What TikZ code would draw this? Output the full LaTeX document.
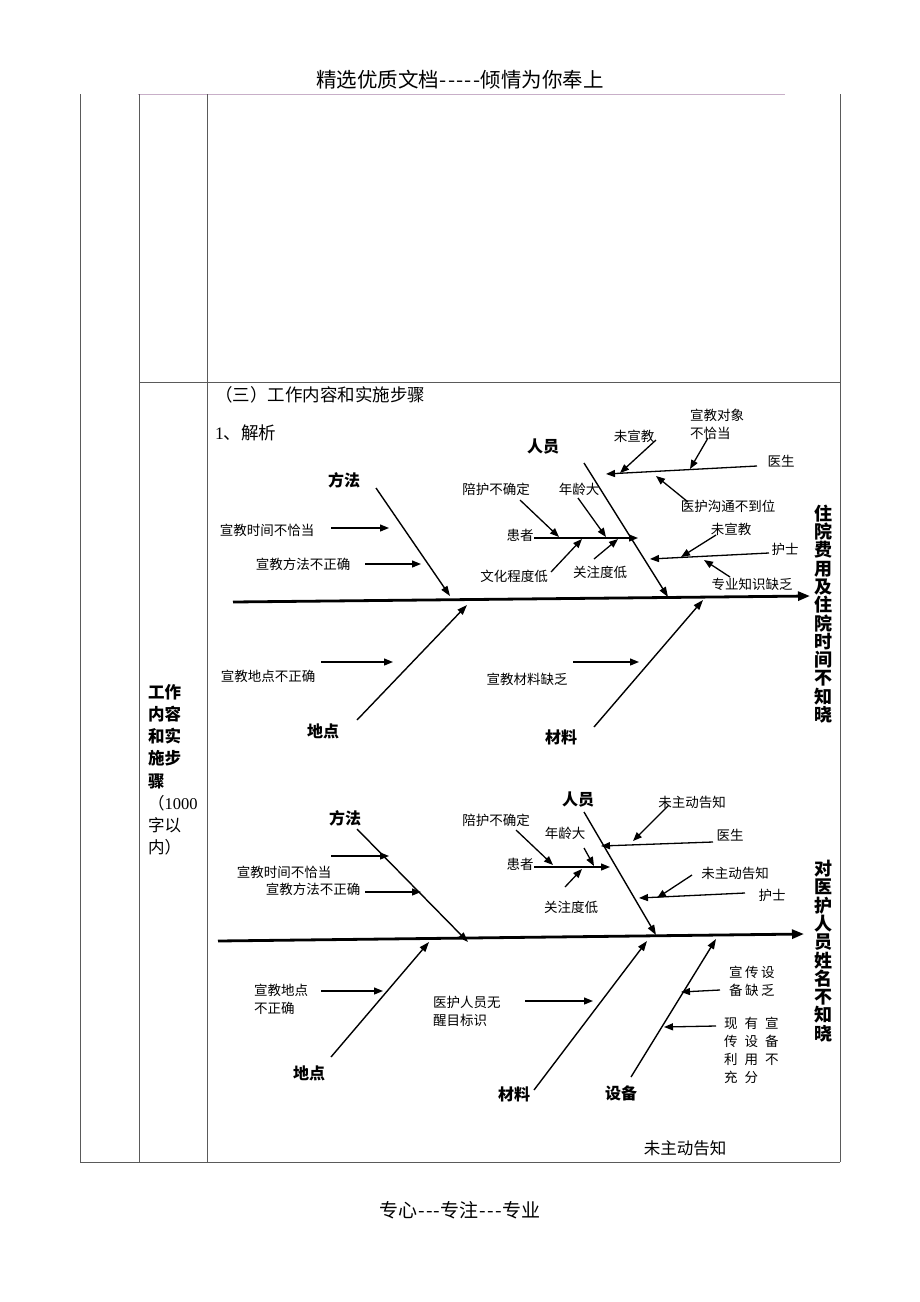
\documentclass[tikz,border=0pt]{standalone}
\usepackage{fontspec}
\setmainfont{Noto Sans CJK SC}
\newfontfamily\lat{Liberation Serif}
\usetikzlibrary{arrows.meta}
\definecolor{hdrline}{RGB}{200,175,200}
\definecolor{tblline}{RGB}{90,90,90}
\newcommand{\dsh}{\kern0.6pt-\kern0.6pt}
\begin{document}
\begin{tikzpicture}[x=1pt,y=-1pt,
  lbl/.style={font=\fontsize{13.5}{18}\selectfont, inner sep=0pt},
  lblL/.style={lbl, anchor=west, align=left},
  head/.style={font=\fontsize{16}{18}\selectfont\bfseries, inner sep=0pt},
  effect/.style={font=\fontsize{18}{18.3}\selectfont\bfseries, inner sep=0pt, align=center},
  arr/.style={line width=1.3pt, -{Triangle[length=9pt,width=7pt]}},
  bone/.style={line width=1.4pt, -{Triangle[length=10pt,width=7pt]}},
  spine/.style={line width=2.8pt, -{Triangle[length=12pt,width=9pt]}},
  tbl/.style={line width=0.9pt, tblline}]
\useasboundingbox (0,0) rectangle (920,1302);

% ---------- page header / footer ----------
\node[inner sep=0pt, font=\fontsize{20.5}{22}\selectfont] (hdr) at (460,80) {精选优质文档\dsh\dsh\dsh\dsh\dsh 倾情为你奉上};
\coordinate (hl1) at (138,94); \coordinate (hl2) at (785,94);
\draw[hdrline, line width=1pt] (hl1) -- (hl2);
\node[inner sep=0pt, font=\fontsize{19}{22}\selectfont] (ftr) at (460,1210) {专心\dsh\dsh\dsh 专注\dsh\dsh\dsh 专业};

% ---------- table ----------
\coordinate (c1t) at (80,94);  \coordinate (c1b) at (80,1162);
\coordinate (c2t) at (139,94); \coordinate (c2b) at (139,1162);
\coordinate (c3t) at (207,94); \coordinate (c3b) at (207,1162);
\coordinate (c4t) at (840,94); \coordinate (c4b) at (840,1162);
\coordinate (r1a) at (139,382); \coordinate (r1b) at (840,382);
\draw[tbl] (c1t) -- (c1b);
\draw[tbl] (c2t) -- (c2b);
\draw[tbl] (c3t) -- (c3b);
\draw[tbl] (c4t) -- (c4b);
\draw[tbl] (r1a) -- (r1b);
\draw[tbl] (c1b) -- (c4b);

% left cell
\node[inner sep=0pt, anchor=north west, align=left, font=\fontsize{16.5}{22.2}\selectfont] (cell) at (148,684)
  {\textbf{工作}\\\textbf{内容}\\\textbf{和实}\\\textbf{施步}\\\textbf{骤}\\（{\lat 1000}\\字以\\内）};

% section titles
\node[inner sep=0pt, anchor=west, font=\fontsize{17.5}{20}\selectfont] (sec) at (215,395) {（三）工作内容和实施步骤};
\node[inner sep=0pt, anchor=west, font=\fontsize{17.5}{20}\selectfont] (sub) at (215,433) {{\lat 1}、解析};

% ================= fishbone 1 =================
\coordinate (s1a) at (233,602); \coordinate (s1b) at (810,596);
\draw[spine] (s1a) -- (s1b);
\node[effect] (eff1) at (823,614) {住\\院\\费\\用\\及\\住\\院\\时\\间\\不\\知\\晓};

% 方法
\node[head] (f1m) at (344,480) {方法};
\coordinate (f1ma) at (376,488); \coordinate (f1mb) at (450,596);
\draw[bone] (f1ma) -- (f1mb);
\node[lbl] (f1m1) at (267,530) {宣教时间不恰当};
\coordinate (f1m1a) at (331,528); \coordinate (f1m1b) at (389,528);
\draw[arr] (f1m1a) -- (f1m1b);
\node[lbl] (f1m2) at (303,564) {宣教方法不正确};
\coordinate (f1m2a) at (365,564); \coordinate (f1m2b) at (421,564);
\draw[arr] (f1m2a) -- (f1m2b);

% 人员
\node[head] (f1r) at (543,447) {人员};
\coordinate (f1ra) at (584,463); \coordinate (f1rb) at (668,597);
\draw[bone] (f1ra) -- (f1rb);
\node[lbl] (f1r1) at (634,436) {未宣教};
\coordinate (f1r1a) at (656,440); \coordinate (f1r1b) at (620,473);
\draw[arr] (f1r1a) -- (f1r1b);
\node[lbl, align=left] (f1r2) at (717,424) {宣教对象\\不恰当};
\coordinate (f1r2a) at (708,438); \coordinate (f1r2b) at (690,469);
\draw[arr] (f1r2a) -- (f1r2b);
\node[lbl] (f1doc) at (781,461) {医生};
\coordinate (f1da) at (757,466); \coordinate (f1db) at (606,474);
\draw[arr] (f1da) -- (f1db);
\node[lbl] (f1r3) at (728,506) {医护沟通不到位};
\coordinate (f1r3a) at (688,502); \coordinate (f1r3b) at (656,476);
\draw[arr] (f1r3a) -- (f1r3b);
\node[lbl] (f1pat) at (520,535) {患者};
\coordinate (f1pa) at (534,538); \coordinate (f1pb) at (638,538);
\draw[arr] (f1pa) -- (f1pb);
\node[lbl] (f1p1) at (496,489) {陪护不确定};
\coordinate (f1p1a) at (520,500); \coordinate (f1p1b) at (559,537);
\draw[arr] (f1p1a) -- (f1p1b);
\node[lbl] (f1p2) at (579,489) {年龄大};
\coordinate (f1p2a) at (578,498); \coordinate (f1p2b) at (606,537);
\draw[arr] (f1p2a) -- (f1p2b);
\node[lbl] (f1p3) at (514,576) {文化程度低};
\coordinate (f1p3a) at (551,572); \coordinate (f1p3b) at (582,539);
\draw[arr] (f1p3a) -- (f1p3b);
\node[lbl] (f1p4) at (600,572) {关注度低};
\coordinate (f1p4a) at (594,559); \coordinate (f1p4b) at (618,539);
\draw[arr] (f1p4a) -- (f1p4b);
\node[lbl] (f1n1) at (731,529) {未宣教};
\coordinate (f1n1a) at (716,535); \coordinate (f1n1b) at (681,557);
\draw[arr] (f1n1a) -- (f1n1b);
\node[lbl] (f1nur) at (785,549) {护士};
\coordinate (f1na) at (769,553); \coordinate (f1nb) at (650,559);
\draw[arr] (f1na) -- (f1nb);
\node[lbl] (f1n2) at (752,584) {专业知识缺乏};
\coordinate (f1n2a) at (730,577); \coordinate (f1n2b) at (704,560);
\draw[arr] (f1n2a) -- (f1n2b);

% 地点
\node[head] (f1d) at (323,731) {地点};
\coordinate (f1dda) at (357,720); \coordinate (f1ddb) at (467,605);
\draw[bone] (f1dda) -- (f1ddb);
\node[lbl] (f1d1) at (268,676) {宣教地点不正确};
\coordinate (f1d1a) at (321,662); \coordinate (f1d1b) at (393,662);
\draw[arr] (f1d1a) -- (f1d1b);

% 材料
\node[head] (f1c) at (561,737) {材料};
\coordinate (f1ca) at (594,727); \coordinate (f1cb) at (703,600);
\draw[bone] (f1ca) -- (f1cb);
\node[lbl] (f1c1) at (527,679) {宣教材料缺乏};
\coordinate (f1c1a) at (573,662); \coordinate (f1c1b) at (639,662);
\draw[arr] (f1c1a) -- (f1c1b);

% ================= fishbone 2 =================
\coordinate (s2a) at (218,941); \coordinate (s2b) at (804,934);
\draw[spine] (s2a) -- (s2b);
\node[effect] (eff2) at (823,951) {对\\医\\护\\人\\员\\姓\\名\\不\\知\\晓};

% 方法
\node[head] (f2m) at (345,818) {方法};
\coordinate (f2ma) at (357,829); \coordinate (f2mb) at (468,942);
\draw[bone] (f2ma) -- (f2mb);
\coordinate (f2m1a) at (331,856); \coordinate (f2m1b) at (389,856);
\draw[arr] (f2m1a) -- (f2m1b);
\node[lbl] (f2m1) at (284,872) {宣教时间不恰当};
\node[lbl] (f2m2) at (313,889) {宣教方法不正确};
\coordinate (f2m2a) at (365,892); \coordinate (f2m2b) at (421,892);
\draw[arr] (f2m2a) -- (f2m2b);

% 人员
\node[head] (f2r) at (578,800) {人员};
\coordinate (f2ra) at (584,812); \coordinate (f2rb) at (656,935);
\draw[bone] (f2ra) -- (f2rb);
\node[lbl] (f2r1) at (692,802) {未主动告知};
\coordinate (f2r1a) at (669,805); \coordinate (f2r1b) at (633,841);
\draw[arr] (f2r1a) -- (f2r1b);
\node[lbl] (f2doc) at (730,835) {医生};
\coordinate (f2da) at (713,842); \coordinate (f2db) at (601,846);
\draw[arr] (f2da) -- (f2db);
\node[lbl] (f2p1) at (496,820) {陪护不确定};
\coordinate (f2p1a) at (516,830); \coordinate (f2p1b) at (553,865);
\draw[arr] (f2p1a) -- (f2p1b);
\node[lbl] (f2p2) at (565,833) {年龄大};
\coordinate (f2p2a) at (584,848); \coordinate (f2p2b) at (594,866);
\draw[arr] (f2p2a) -- (f2p2b);
\node[lbl] (f2pat) at (520,864) {患者};
\coordinate (f2pa) at (534,867); \coordinate (f2pb) at (610,867);
\draw[arr] (f2pa) -- (f2pb);
\node[lbl] (f2p4) at (571,907) {关注度低};
\coordinate (f2p4a) at (565,887); \coordinate (f2p4b) at (582,869);
\draw[arr] (f2p4a) -- (f2p4b);
\node[lbl] (f2n1) at (735,873) {未主动告知};
\coordinate (f2n1a) at (692,875); \coordinate (f2n1b) at (657,898);
\draw[arr] (f2n1a) -- (f2n1b);
\node[lbl] (f2nur) at (772,895) {护士};
\coordinate (f2na) at (745,893); \coordinate (f2nb) at (639,898);
\draw[arr] (f2na) -- (f2nb);

% 地点
\node[head] (f2d) at (309,1073) {地点};
\coordinate (f2dda) at (331,1057); \coordinate (f2ddb) at (429,942);
\draw[bone] (f2dda) -- (f2ddb);
\node[lblL] (f2d1) at (254,999) {宣教地点\\不正确};
\coordinate (f2d1a) at (321,991); \coordinate (f2d1b) at (383,991);
\draw[arr] (f2d1a) -- (f2d1b);

% 材料
\node[head] (f2c) at (514,1094) {材料};
\coordinate (f2ca) at (534,1090); \coordinate (f2cb) at (647,941);
\draw[bone] (f2ca) -- (f2cb);
\node[lblL] (f2c1) at (433,1011) {医护人员无\\醒目标识};
\coordinate (f2c1a) at (525,1001); \coordinate (f2c1b) at (593,1001);
\draw[arr] (f2c1a) -- (f2c1b);

% 设备
\node[head] (f2e) at (621,1093) {设备};
\coordinate (f2ea) at (631,1077); \coordinate (f2eb) at (716,939);
\draw[bone] (f2ea) -- (f2eb);
\node[lblL] (f2e1) at (729,981) {宣\hspace{2.5pt}传\hspace{2.5pt}设\\备\hspace{2.5pt}缺\hspace{2.5pt}乏};
\coordinate (f2e1a) at (720,990); \coordinate (f2e1b) at (681,992);
\draw[arr] (f2e1a) -- (f2e1b);
\node[lblL] (f2e2) at (724,1050) {现\hspace{7pt}有\hspace{7pt}宣\\传\hspace{7pt}设\hspace{7pt}备\\利\hspace{7pt}用\hspace{7pt}不\\充\hspace{7pt}分};
\coordinate (f2e2a) at (716,1026); \coordinate (f2e2b) at (664,1027);
\draw[arr] (f2e2a) -- (f2e2b);

\node[inner sep=0pt, font=\fontsize{16.5}{20}\selectfont] (f2x) at (685,1148) {未主动告知};
\end{tikzpicture}
\end{document}
